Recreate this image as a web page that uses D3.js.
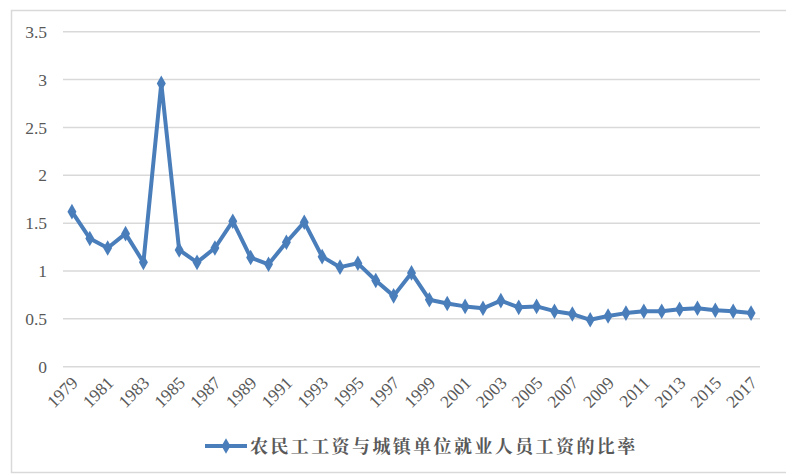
<!DOCTYPE html>
<html>
<head>
<meta charset="utf-8">
<script src="https://cdn.jsdelivr.net/npm/d3@7"></script>
<style>
  html, body { margin: 0; padding: 0; background: #fff; }
  svg { display: block; }
  .tick-label { font-family: "Liberation Serif", "Times New Roman", serif; font-size: 17.5px; fill: #595959; }
  .legend-label { font-family: "Noto Serif CJK SC", "Noto Sans CJK SC", serif; font-size: 18px; font-weight: bold; fill: #595959; letter-spacing: 2.4px; }
</style>
</head>
<body>
<svg id="chart" width="786" height="475"></svg>
<script>
const years = ["1979","1980","1981","1982","1983","1984","1985","1986","1987","1988",
  "1989","1990","1991","1992","1993","1994","1995","1996","1997","1998",
  "1999","2000","2001","2002","2003","2004","2005","2006","2007","2008",
  "2009","2010","2011","2012","2013","2014","2015","2016","2017"];
const ratio = [1.62,1.34,1.24,1.39,1.09,2.96,1.22,1.09,1.24,1.52,
  1.14,1.07,1.30,1.51,1.15,1.04,1.08,0.90,0.74,0.98,
  0.70,0.66,0.63,0.61,0.69,0.62,0.63,0.58,0.55,0.49,
  0.53,0.56,0.58,0.58,0.60,0.61,0.59,0.58,0.56];
const yTicks = [0,0.5,1,1.5,2,2.5,3,3.5];
const xTickLabels = years.filter((d,i) => i % 2 === 0);
const seriesName = "农民工工资与城镇单位就业人员工资的比率";

const svg = d3.select("#chart");
const color = "#4a7ebb";

// outer border
svg.append("rect").attr("x", 11.5).attr("y", 10.5).attr("width", 790).attr("height", 462)
  .attr("fill", "#fff").attr("stroke", "#d9d9d9").attr("stroke-width", 1.5);

const x = d3.scaleBand().domain(years).range([63, 760]).padding(0);
const y = d3.scaleLinear().domain([0, 3.5]).range([366.7, 31.7]);

// gridlines
svg.append("g").selectAll("line").data(yTicks).join("line")
  .attr("x1", 63).attr("x2", 760)
  .attr("y1", d => y(d)).attr("y2", d => y(d))
  .attr("stroke", "#d9d9d9").attr("stroke-width", 1.5);

// y labels
svg.append("g").selectAll("text").data(yTicks).join("text")
  .attr("class", "tick-label")
  .attr("x", 47).attr("y", d => y(d)).attr("dy", "0.35em")
  .attr("text-anchor", "end")
  .text(d => d);

// x labels
svg.append("g").selectAll("text").data(xTickLabels).join("text")
  .attr("class", "tick-label")
  .attr("transform", d => `translate(${x(d) + x.bandwidth()/2 + 7},${384}) rotate(-45)`)
  .attr("text-anchor", "end")
  .text(d => d);

// line
const cx = d => x(d) + x.bandwidth()/2;
const line = d3.line().x((d,i) => cx(years[i])).y(d => y(d));
svg.append("path").datum(ratio).attr("d", line)
  .attr("fill", "none").attr("stroke", color).attr("stroke-width", 4)
  .attr("stroke-linejoin", "round");

// markers
const diamond = d3.symbol().type(d3.symbolDiamond).size(70);
svg.append("g").selectAll("path").data(ratio).join("path")
  .attr("d", diamond)
  .attr("transform", (d,i) => `translate(${cx(years[i])},${y(d)})`)
  .attr("fill", color);

// legend
const lg = svg.append("g");
lg.append("line").attr("x1", 205).attr("x2", 247).attr("y1", 446).attr("y2", 446)
  .attr("stroke", color).attr("stroke-width", 4);
lg.append("path").attr("d", diamond).attr("transform", "translate(226,446)").attr("fill", color);
lg.append("text").attr("class", "legend-label").attr("x", 250).attr("y", 452.5)
  .text(seriesName);
</script>
</body>
</html>
